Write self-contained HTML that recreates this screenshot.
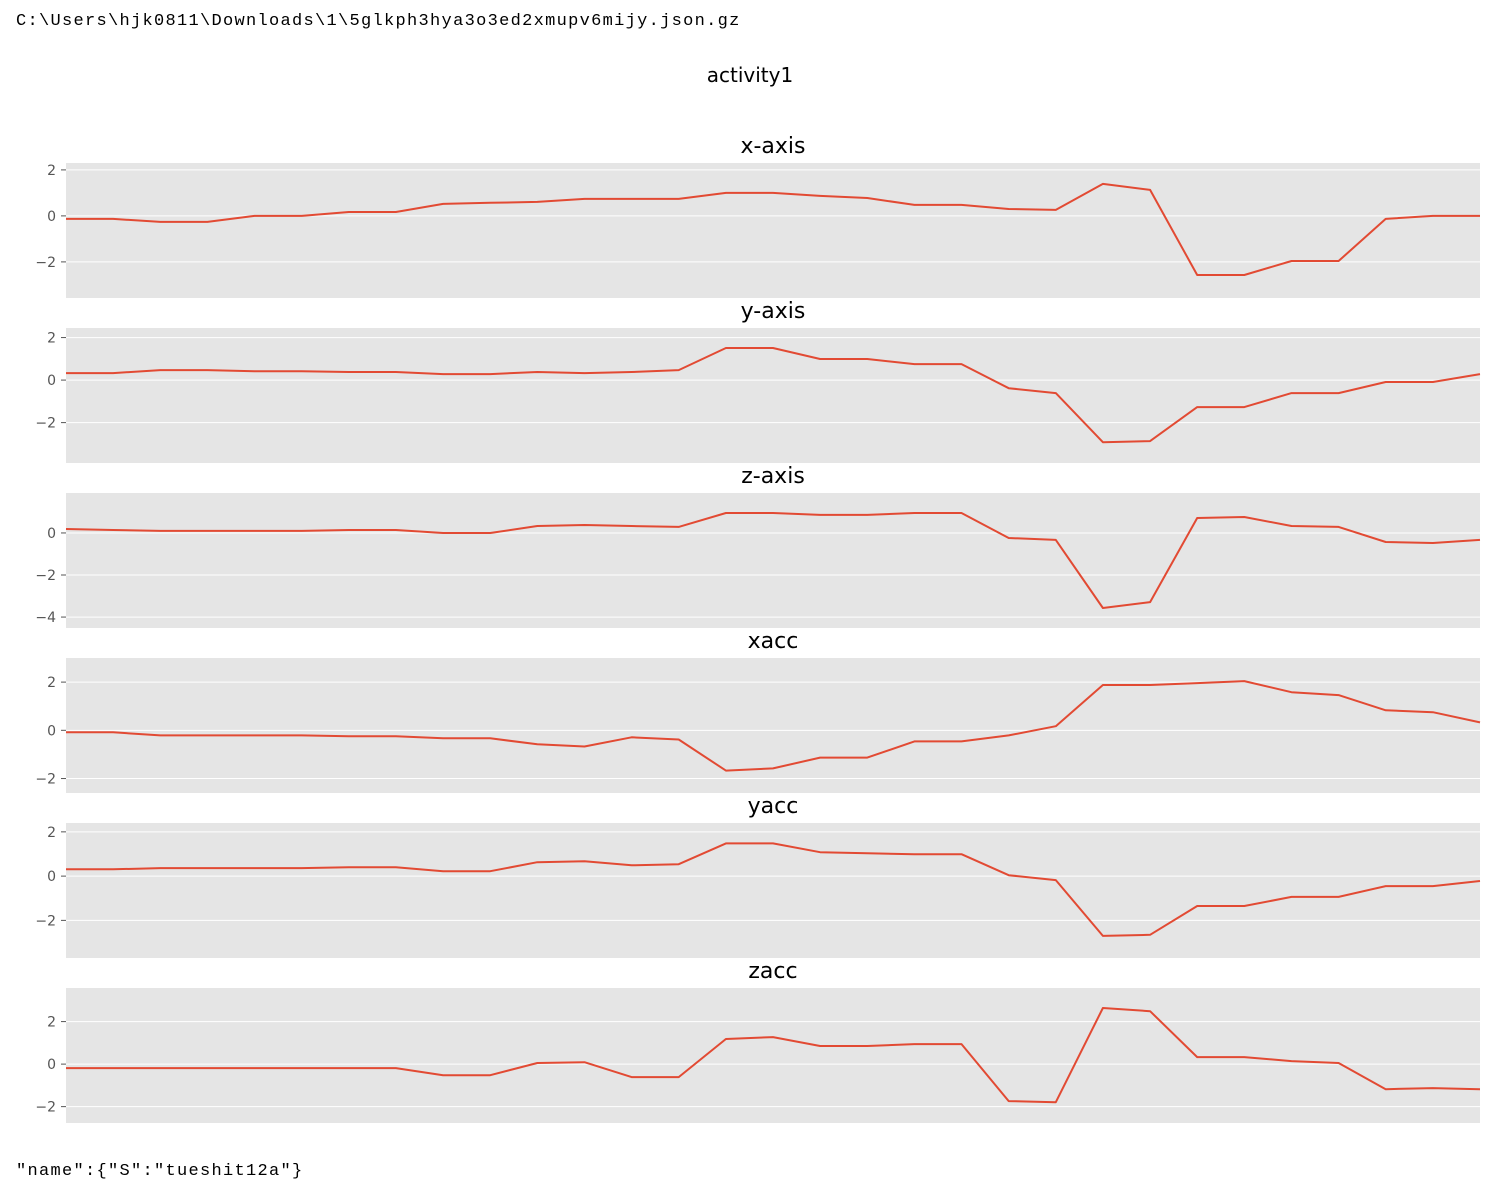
<!DOCTYPE html>
<html><head><meta charset="utf-8">
<style>
body{margin:0;background:#fff;width:1503px;height:1189px;overflow:hidden;font-family:"DejaVu Sans","Liberation Sans",sans-serif;}
.mono{position:absolute;font-family:"Liberation Mono","DejaVu Sans Mono",monospace;font-size:17px;color:#000;white-space:pre;}
</style></head>
<body>
<div class="mono" style="left:16px;top:12px;letter-spacing:1.3px">C:\Users\hjk0811\Downloads\1\5glkph3hya3o3ed2xmupv6mijy.json.gz</div>
<div class="mono" style="left:16px;top:1162px;letter-spacing:1.3px">"name":{"S":"tueshit12a"}</div>
<svg id="chart" width="1503" height="1189" style="position:absolute;left:0;top:0">
<text x="750" y="82" text-anchor="middle" font-size="20" fill="#000">activity1</text>
</svg>
<script>
const titles=["x-axis","y-axis","z-axis","xacc","yacc","zacc"];
const xaxisVals=[-0.13,-0.13,-0.26,-0.26,0,0,0.17,0.17,0.52,0.57,0.61,0.74,0.74,0.74,1.0,1.0,0.87,0.78,0.48,0.48,0.3,0.26,1.39,1.13,-2.57,-2.57,-1.96,-1.96,-0.13,0,0];
const yaxisVals=[.33,.33,.47,.47,.42,.42,.38,.38,.28,.28,.38,.33,.38,.47,1.51,1.51,.99,.99,.75,.75,-.38,-.61,-2.92,-2.87,-1.27,-1.27,-.61,-.61,-.09,-.09,.28];
const zaxisVals=[.19,.14,.1,.1,.1,.1,.14,.14,0,0,.33,.38,.33,.29,.95,.95,.86,.86,.95,.95,-.24,-.33,-3.57,-3.29,.71,.76,.33,.29,-.43,-.48,-.33];
const xaccVals=[-.08,-.08,-.21,-.21,-.21,-.21,-.25,-.25,-.33,-.33,-.58,-.67,-.29,-.38,-1.67,-1.58,-1.13,-1.13,-.46,-.46,-.21,.17,1.88,1.88,1.96,2.04,1.58,1.46,.83,.75,.33];
const yaccVals=[.31,.31,.36,.36,.36,.36,.4,.4,.22,.22,.63,.67,.49,.54,1.48,1.48,1.08,1.03,.99,.99,.04,-.18,-2.7,-2.65,-1.35,-1.35,-.94,-.94,-.45,-.45,-.22];
const zaccVals=[-.19,-.19,-.19,-.19,-.19,-.19,-.19,-.19,-.52,-.52,.05,.09,-.61,-.61,1.18,1.27,.85,.85,.94,.94,-1.74,-1.79,2.64,2.49,.33,.33,.14,.05,-1.18,-1.13,-1.18];
const yDomains=[[-3.57,2.3],[-3.9,2.45],[-4.52,1.9],[-2.6,3.0],[-3.7,2.4],[-2.77,3.58]];
const yTicks=[[-2,0,2],[-2,0,2],[-4,-2,0],[-2,0,2],[-2,0,2],[-2,0,2]];
const series=[xaxisVals,yaxisVals,zaxisVals,xaccVals,yaccVals,zaccVals];
const NS="http://www.w3.org/2000/svg";
const svg=document.getElementById('chart');
const L=66,R=1480,H=135;
function mk(t,a,p){const e=document.createElementNS(NS,t);for(const k in a)e.setAttribute(k,a[k]);(p||svg).appendChild(e);return e;}
series.forEach((vals,i)=>{
  const top=163+i*165,bot=top+H;
  const [d0,d1]=yDomains[i];
  const y=v=>bot-(v-d0)/(d1-d0)*H;
  const x=j=>L+j*(R-L)/(vals.length-1);
  const g=mk('g',{});
  
  
  const bg=mk('rect',{x:L,y:top,width:R-L,height:H,fill:'#e5e5e5'},g);
  
  
  yTicks[i].forEach(t=>{
    const yy=y(t);
    const gl=mk('line',{x1:L,x2:R,y1:yy,y2:yy,stroke:'#fff','stroke-width':1},g);
    
    
    mk('line',{x1:L-5,x2:L,y1:yy,y2:yy,stroke:'#555','stroke-width':1},g);
    const tl=mk('text',{x:L-10,y:yy+5,'text-anchor':'end','font-size':14,fill:'#555'},g);
    tl.textContent=t<0?'\u2212'+Math.abs(t):String(t);
    
    
  });
  const tt=mk('text',{x:773,y:top-10,'text-anchor':'middle','font-size':22,fill:'#000'},g);
  tt.textContent=titles[i];
  
  
  const pts=vals.map((v,j)=>x(j).toFixed(1)+','+y(v).toFixed(1)).join(' ');
  const pl=mk('polyline',{points:pts,fill:'none',stroke:'#E24A33','stroke-width':2,'stroke-linejoin':'round'},g);
  
  
});
</script>
</body></html>
